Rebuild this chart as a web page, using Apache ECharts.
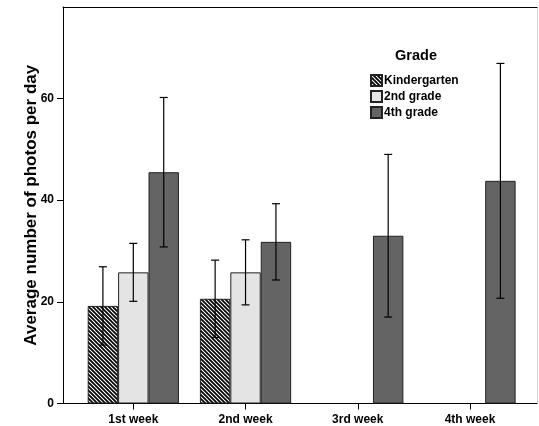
<!DOCTYPE html>
<html>
<head>
<meta charset="utf-8">
<script src="https://cdn.jsdelivr.net/npm/echarts@6/dist/echarts.min.js"></script>
<style>html,body{margin:0;padding:0;background:#fff}#c{width:539px;height:426px}</style>
</head>
<body>
<div id="c"></div>
<script>
var categories = ['1st week', '2nd week', '3rd week', '4th week'];
var seriesNames = ['Kindergarten', '2nd grade', '4th grade'];
var kindergarten = [19.2, 20.6, null, null];
var kindergartenErr = [7.7, 7.6, null, null];
var grade2 = [25.8, 25.8, null, null];
var grade2Err = [5.7, 6.4, null, null];
var grade4 = [45.5, 31.8, 33.0, 43.8];
var grade4Err = [14.7, 7.5, 16.0, 23.1];
var yTicks = [0, 20, 40, 60];

var FONT = '"Liberation Sans", Arial, Helvetica, sans-serif';
var CAT_GAP = 0.187;

function hatch() {
  var s = 8, c = document.createElement('canvas');
  c.width = s; c.height = s;
  var g = c.getContext('2d');
  g.fillStyle = '#000'; g.fillRect(0, 0, s, s);
  g.strokeStyle = '#fff'; g.lineWidth = 1.1;
  for (var k = -2; k <= 2; k++) {
    var o = k * 4;
    g.beginPath(); g.moveTo(-1, o - 1); g.lineTo(s + 1, s + o + 1); g.stroke();
  }
  return c;
}

function errData(means, errs) {
  var out = [];
  for (var i = 0; i < means.length; i++) {
    if (means[i] != null && errs[i] != null) out.push([i, means[i], errs[i]]);
  }
  return out;
}

function errSeries(means, errs, slot) {
  return {
    type: 'custom', xAxisIndex: 2, yAxisIndex: 2, z: 5, silent: true,
    encode: { x: 0, y: 1 },
    data: errData(means, errs),
    renderItem: function (params, api) {
      var x = api.value(0), m = api.value(1), e = api.value(2);
      var band = api.size([1, 0])[0];
      var bw = band * (1 - CAT_GAP) / 3;
      var hi = api.coord([x, m + e]);
      var lo = api.coord([x, m - e]);
      var cx = hi[0] + (slot - 1) * bw;
      var cap = 4;
      var st = { stroke: '#000', lineWidth: 1.2 };
      return {
        type: 'group',
        children: [
          { type: 'line', shape: { x1: cx, y1: hi[1], x2: cx, y2: lo[1] }, style: st },
          { type: 'line', shape: { x1: cx - cap, y1: hi[1], x2: cx + cap, y2: hi[1] }, style: st },
          { type: 'line', shape: { x1: cx - cap, y1: lo[1], x2: cx + cap, y2: lo[1] }, style: st }
        ]
      };
    }
  };
}

var chart = echarts.init(document.getElementById('c'), null, { renderer: 'canvas' });
var labelStyle = { fontFamily: FONT, fontWeight: 'bold', fontSize: 12, color: '#000' };
var barBase = { type: 'bar', xAxisIndex: 2, yAxisIndex: 2, barGap: 0, barCategoryGap: (CAT_GAP * 100) + '%' };

chart.setOption({
  animation: false,
  backgroundColor: '#fff',
  title: {
    text: 'Grade', left: 416, top: 48, textAlign: 'center', padding: 0,
    textStyle: { fontFamily: FONT, fontWeight: 'bold', fontSize: 14.5, color: '#000' }
  },
  legend: {
    data: seriesNames, orient: 'vertical', left: 370, top: 74, padding: 0,
    itemWidth: 11, itemHeight: 11, itemGap: 3, icon: 'rect',
    textStyle: { fontFamily: FONT, fontWeight: 'bold', fontSize: 12, color: '#000', padding: [0, 0, 0, -3] }
  },
  grid: [
    { left: 63, right: 2, top: 7, bottom: 22.5 },
    { left: 77.2, right: 12.9, top: 7, bottom: 22.5 }
  ],
  xAxis: [
    { gridIndex: 0, type: 'category', data: categories, position: 'bottom',
      axisLine: { onZero: false, lineStyle: { color: '#000', width: 1 } }, axisTick: { show: false }, axisLabel: { show: false } },
    { gridIndex: 0, type: 'category', data: categories, position: 'top',
      axisLine: { onZero: false, lineStyle: { color: '#000', width: 1 } }, axisTick: { show: false }, axisLabel: { show: false } },
    { gridIndex: 1, type: 'category', data: categories, position: 'bottom',
      axisLine: { show: true, onZero: false, lineStyle: { color: '#000', width: 1 } },
      axisTick: { show: true, alignWithLabel: true, length: 6, lineStyle: { color: '#000', width: 1 } },
      axisLabel: Object.assign({ margin: 10 }, labelStyle) }
  ],
  yAxis: [
    { gridIndex: 0, type: 'value', min: 0, max: 78, position: 'left',
      name: 'Average number of photos per day', nameLocation: 'middle', nameGap: 23, nameMoveOverlap: false,
      nameTextStyle: { fontFamily: FONT, fontWeight: 'bold', fontSize: 17, color: '#000' },
      axisLine: { show: true, onZero: false, lineStyle: { color: '#000', width: 1 } },
      axisTick: { show: true, length: 6, customValues: yTicks, lineStyle: { color: '#000', width: 1 } },
      axisLabel: Object.assign({ margin: 9, customValues: yTicks }, labelStyle),
      splitLine: { show: false } },
    { gridIndex: 0, type: 'value', min: 0, max: 78, position: 'right',
      axisLine: { show: true, onZero: false, lineStyle: { color: '#d4d4d4', width: 1 } },
      axisTick: { show: false }, axisLabel: { show: false }, splitLine: { show: false } },
    { gridIndex: 1, type: 'value', min: 0, max: 78, show: false, splitLine: { show: false } }
  ],
  series: [
    Object.assign({}, barBase, { name: seriesNames[0], data: kindergarten,
      itemStyle: { color: { image: hatch(), repeat: 'repeat' }, borderColor: '#222', borderWidth: 1 } }),
    Object.assign({}, barBase, { name: seriesNames[1], data: grade2,
      itemStyle: { color: '#e4e4e4', borderColor: '#222', borderWidth: 1 } }),
    Object.assign({}, barBase, { name: seriesNames[2], data: grade4,
      itemStyle: { color: '#646464', borderColor: '#222', borderWidth: 1 } }),
    errSeries(kindergarten, kindergartenErr, 0),
    errSeries(grade2, grade2Err, 1),
    errSeries(grade4, grade4Err, 2)
  ]
});
</script>
</body>
</html>
